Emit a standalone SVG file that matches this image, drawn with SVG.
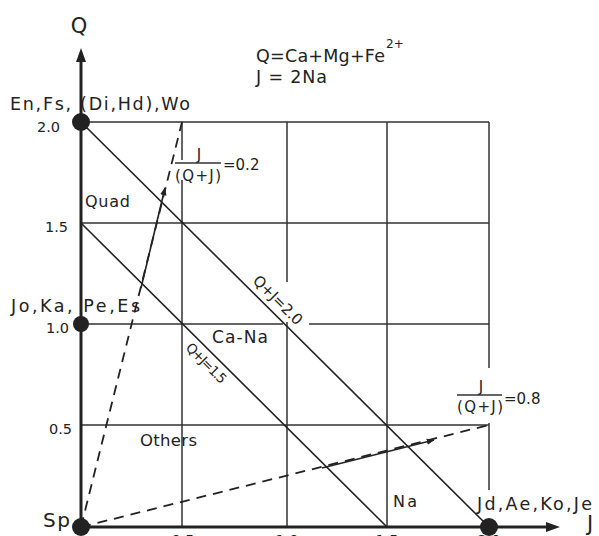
<svg xmlns="http://www.w3.org/2000/svg" width="599" height="536" viewBox="0 0 599 536">
<style>
text{font-family:"DejaVu Sans","Liberation Sans",Arial,sans-serif;fill:#222}
.grid{stroke:#333;stroke-width:1.5;fill:none}
.axis{stroke:#222;stroke-width:3;fill:none}
.diag{stroke:#222;stroke-width:1.6;fill:none}
.dash{stroke:#222;stroke-width:1.8;fill:none;stroke-dasharray:10 7}
.arr{stroke:#222;stroke-width:1.6;fill:none}
.tick{font-size:14.5px}
.lab{font-size:17.5px}
.frac{font-size:15px}
</style>
<defs>
<marker id="ah" viewBox="0 0 10 10" refX="9" refY="5" markerWidth="8" markerHeight="8" markerUnits="userSpaceOnUse" orient="auto">
<path d="M0,1 L10,5 L0,9 z" fill="#222"/>
</marker>
</defs>
<rect width="599" height="536" fill="#fff"/>

<g id="grid">
<path class="grid" d="M81,122 H489 M81,223 H489 M81,425 H489 M81,324 H283 M309,324 H489"/>
<path class="grid" d="M182,122 V160 M182,180 V527 M287,122 V282 M287,322 V527 M387,122 V527 M489,122 V368 M489,423 V490"/>
</g>

<g id="connectors">
<path class="axis" d="M81,527 V60"/>
<path d="M81,48 L76,62 L86,62 z" fill="#222"/>
<path class="axis" d="M81,527 H548"/>
<path d="M560,527 L546,522 L546,532 z" fill="#222"/>
<path class="diag" d="M81,122 L489,527"/>
<path class="diag" d="M81,223 L387,527"/>
<path class="dash" d="M81,527 L182,122"/>
<path class="dash" d="M81,527 L489,425"/>
<path class="arr" d="M141,288 L165,188" marker-end="url(#ah)"/>
<path class="arr" d="M322,468 L434,440" marker-end="url(#ah)"/>
</g>

<g id="node-sp">
<circle cx="81" cy="527" r="9" fill="#222"/>
<text x="43" y="527" font-size="20" textLength="27">Sp</text>
</g>
<g id="node-en">
<circle cx="81" cy="122" r="9" fill="#222"/>
<text class="lab" x="10" y="110" textLength="180">En,Fs, (Di,Hd),Wo</text>
</g>
<g id="node-jo">
<circle cx="81" cy="324" r="8" fill="#222"/>
<text class="lab" x="11" y="312" textLength="129">Jo,Ka, Pe,Es</text>
</g>
<g id="node-jd">
<circle cx="489" cy="527" r="9" fill="#222"/>
<text class="lab" x="477" y="510" textLength="115">Jd,Ae,Ko,Je</text>
</g>

<g id="axis-labels">
<text x="79" y="33" font-size="21" text-anchor="middle">Q</text>
<text x="590" y="531" font-size="21" text-anchor="middle">J</text>
<text class="tick" x="60" y="132" text-anchor="end">2.0</text>
<text class="tick" x="68" y="232" text-anchor="end">1.5</text>
<text class="tick" x="69" y="333" text-anchor="end">1.0</text>
<text class="tick" x="72" y="434" text-anchor="end">0.5</text>
<text class="tick" x="183" y="545" text-anchor="middle">0.5</text>
<text class="tick" x="287" y="545" text-anchor="middle">1.0</text>
<text class="tick" x="387" y="545" text-anchor="middle">1.5</text>
<text class="tick" x="489" y="545" text-anchor="middle">2.0</text>
</g>

<g id="legend">
<text class="lab" x="256" y="62" textLength="129">Q=Ca+Mg+Fe</text>
<text x="386" y="48" font-size="12">2+</text>
<text class="lab" x="256" y="83" textLength="71">J = 2Na</text>
</g>

<g id="regions">
<text x="85" y="207" font-size="16" textLength="45">Quad</text>
<text x="212" y="343" font-size="17" textLength="56">Ca-Na</text>
<text x="140" y="446" font-size="16.5" textLength="57">Others</text>
<text x="393" y="507" font-size="16" textLength="24">Na</text>
</g>

<g id="line-labels">
<text x="252" y="281.5" font-size="15" textLength="63" transform="rotate(45 252 281.5)">Q+J=2.0</text>
<text x="185" y="348.5" font-size="13.5" textLength="51" transform="rotate(45 185 348.5)">Q+J=1.5</text>
</g>

<g id="ratio-02">
<text class="frac" x="199" y="160" text-anchor="middle">J</text>
<path class="grid" d="M175,163 H221"/>
<text class="frac" x="198" y="181" text-anchor="middle" textLength="46">(Q+J)</text>
<text class="frac" x="223" y="170">=0.2</text>
</g>
<g id="ratio-08">
<text class="frac" x="481" y="392" text-anchor="middle">J</text>
<path class="grid" d="M457,395 H502"/>
<text class="frac" x="480" y="412" text-anchor="middle" textLength="46">(Q+J)</text>
<text class="frac" x="504" y="404">=0.8</text>
</g>
</svg>
